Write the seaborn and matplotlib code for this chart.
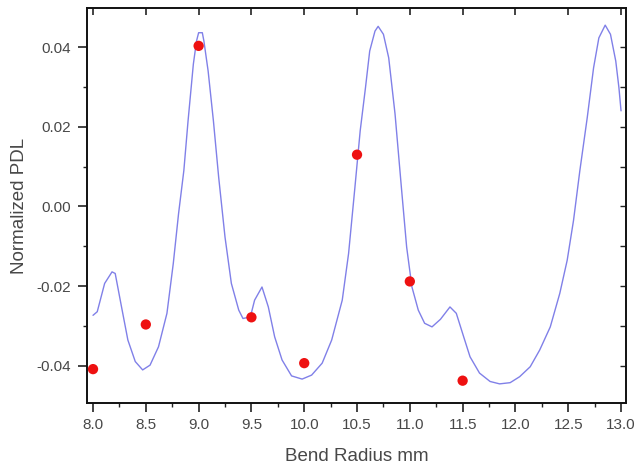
import matplotlib
matplotlib.use("Agg")
import matplotlib.pyplot as plt
import seaborn as sns
import pandas as pd
from matplotlib.ticker import MultipleLocator, FormatStrFormatter

# Measured points
meas_x = [8.0, 8.5, 9.0, 9.5, 10.0, 10.5, 11.0, 11.5]
meas_y = [-0.0408, -0.0296, 0.0403, -0.0278, -0.0393, 0.013, -0.0188, -0.0437]

# Simulated curve
curve_x = [8.00, 8.04, 8.11, 8.18, 8.21, 8.27, 8.33, 8.40, 8.47, 8.54, 8.62, 8.70,
           8.76, 8.81, 8.86, 8.90, 8.95, 8.98, 9.00, 9.035, 9.05, 9.09, 9.14, 9.19,
           9.25, 9.31, 9.38, 9.42, 9.49, 9.53, 9.60, 9.66, 9.72, 9.79, 9.88, 9.98,
           10.07, 10.17, 10.26, 10.36, 10.42, 10.48, 10.53, 10.58, 10.62, 10.67, 10.70,
           10.75, 10.80, 10.86, 10.92, 10.97, 11.02, 11.08, 11.14, 11.21, 11.29, 11.38,
           11.44, 11.51, 11.57, 11.66, 11.76, 11.85, 11.95, 12.04, 12.14, 12.23, 12.33,
           12.42, 12.49, 12.55, 12.61, 12.68, 12.74, 12.79, 12.85, 12.90, 12.95, 12.98, 13.00]
curve_y = [-0.0273, -0.0264, -0.0193, -0.0164, -0.0168, -0.0252, -0.0335, -0.0389, -0.0410, -0.0398, -0.0352, -0.0268,
           -0.0143, -0.0018, 0.0090, 0.0215, 0.0357, 0.0415, 0.0436, 0.0436, 0.0415, 0.0340, 0.0215, 0.0073,
           -0.0077, -0.0193, -0.0260, -0.0281, -0.0277, -0.0235, -0.0202, -0.0252, -0.0327, -0.0385, -0.0425, -0.0433,
           -0.0423, -0.0393, -0.0335, -0.0235, -0.0118, 0.0048, 0.0190, 0.0298, 0.0390, 0.0440, 0.0452,
           0.0432, 0.0373, 0.0232, 0.0048, -0.0102, -0.0202, -0.0260, -0.0293, -0.0302, -0.0283, -0.0252,
           -0.0268, -0.0327, -0.0377, -0.0418, -0.0439, -0.0445, -0.0442, -0.0427, -0.0402, -0.0360, -0.0302,
           -0.0218, -0.0135, -0.0035, 0.0090, 0.0223, 0.0348, 0.0423, 0.0455, 0.0432, 0.0365, 0.0298, 0.0240]

x_label = "Bend Radius mm"
y_label = "Normalized PDL"

sns.set_theme(style="ticks")
plt.rcParams['font.family'] = ['Liberation Sans', 'DejaVu Sans']

curve = pd.DataFrame({"x": curve_x, "y": curve_y})
meas = pd.DataFrame({"x": meas_x, "y": meas_y})

fig = plt.figure(figsize=(6.37, 4.68), dpi=100)
ax = fig.add_axes([87/637, 1 - 403/468, (626-87)/637, (403-8)/468])

sns.lineplot(data=curve, x="x", y="y", sort=False, color="#8080e8", linewidth=1.0,
             solid_joinstyle='round', ax=ax)
sns.scatterplot(data=meas, x="x", y="y", color="#ee1111", s=55, edgecolor="none", ax=ax, zorder=3)

ax.set_xlim(7.943, 13.047)
ax.set_ylim(-0.0493, 0.0498)

ax.xaxis.set_major_locator(MultipleLocator(0.5))
ax.xaxis.set_minor_locator(MultipleLocator(0.25))
ax.yaxis.set_major_locator(MultipleLocator(0.02))
ax.yaxis.set_minor_locator(MultipleLocator(0.01))
ax.xaxis.set_major_formatter(FormatStrFormatter('%.1f'))
ax.yaxis.set_major_formatter(FormatStrFormatter('%.2f'))

txtc = "#484848"
ax.tick_params(axis='both', which='major', direction='out', length=6.5, width=1.2,
               labelsize=11, labelcolor=txtc, color='#222222')
ax.tick_params(axis='x', which='major', pad=4)
ax.tick_params(axis='y', which='major', pad=5)
ax.tick_params(axis='both', which='minor', direction='out', length=3, width=1.0, color='#222222')

# mirror ticks on top/right, pointing inward
ax_top = ax.secondary_xaxis('top')
ax_top.xaxis.set_major_locator(MultipleLocator(0.5))
ax_top.tick_params(direction='in', length=5, width=1.2, labeltop=False, color='#222222')
ax_top.spines['top'].set_visible(False)
ax_right = ax.secondary_yaxis('right')
ax_right.yaxis.set_major_locator(MultipleLocator(0.01))
ax_right.tick_params(direction='in', length=4, width=1.0, labelright=False, color='#222222')
ax_right.spines['right'].set_visible(False)

for s in ax.spines.values():
    s.set_visible(True)
    s.set_linewidth(1.4)
    s.set_color('#111111')

ax.set_xlabel(x_label, fontsize=13.5, color=txtc, labelpad=12)
ax.set_ylabel(y_label, fontsize=13.5, color=txtc, labelpad=6)

fig.savefig("out.png", dpi=100)
